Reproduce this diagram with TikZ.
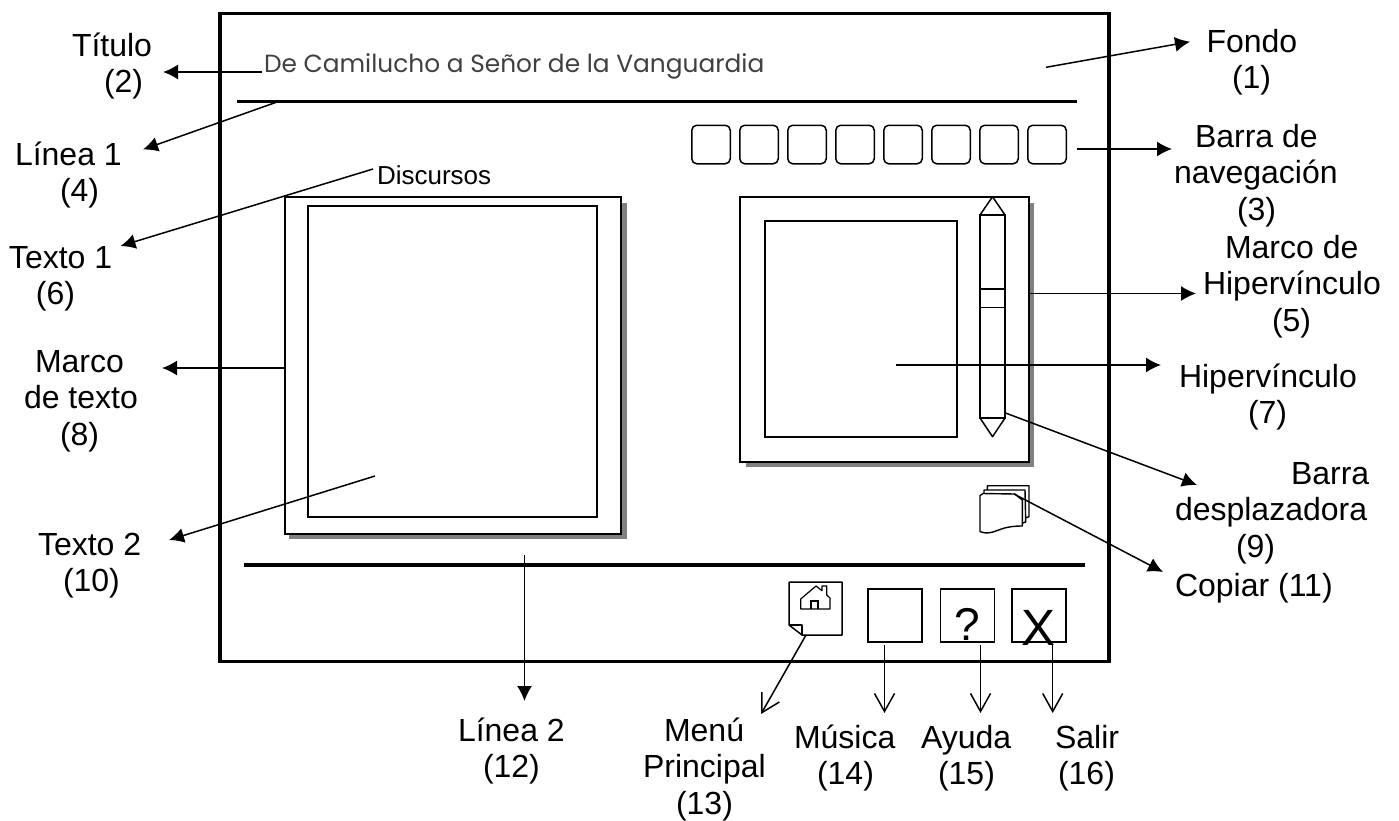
\documentclass[tikz,border=0pt]{standalone}
\usepackage{fontspec}
\setmainfont{Liberation Sans}
\newfontfamily\titlefont{Poppins}
\usetikzlibrary{arrows.meta}
\newcommand{\FL}{\rule{0pt}{30pt}}
\newcommand{\IN}[1]{\hspace*{#1pt}}
\tikzset{
 every node/.style={outer sep=0pt},
 lab/.style={font=\fontsize{32}{36.6}\selectfont,align=left,inner sep=0pt,anchor=north west},
 frame/.style={draw=black,line width=1.6pt,fill=white,inner sep=0pt,anchor=north west},
 conn/.style={line width=1.5pt,-{Latex[length=15pt,width=15pt]}},
 open/.style={line width=1.5pt,-{Straight Barb[length=18pt,width=20pt,line width=1.5pt]}},
 navbtn/.style={draw=black,line width=1.5pt,rounded corners=5pt,minimum width=38.5pt,minimum height=38.5pt,inner sep=0pt},
 btn/.style={draw=black,line width=1.5pt,minimum width=54pt,minimum height=53pt,inner sep=0pt},
 sheet/.style={line width=1.4pt,line join=round},
 shadow/.style={fill=black!50},
 rule/.style={line width=3.4pt},
}
\begin{document}
\begin{tikzpicture}[x=1pt,y=-1pt]
\useasboundingbox (0,0) rectangle (1399,820);
% window
\node[draw=black,line width=3.4pt,minimum width=889pt,minimum height=648pt,inner sep=0pt,anchor=north west] (win) at (220,13.3) {};
\coordinate (l1a) at (237,101.5); \coordinate (l1b) at (1077,101.5);
\draw[rule] (l1a) -- (l1b);
\coordinate (l2a) at (244,565); \coordinate (l2b) at (1085,565);
\draw[rule] (l2a) -- (l2b);
% title
\node[font=\titlefont\fontsize{24.85}{28}\selectfont,anchor=base west,inner sep=0pt,text=black!75] (tit) at (264,72) {De Camilucho a Señor de la Vanguardia};
\node[font=\fontsize{26}{30}\selectfont,anchor=base west,inner sep=0pt] (disc) at (377,184) {Discursos};
% nav
\foreach \i/\x in {1/711,2/759,3/807,4/855,5/903,6/951,7/999,8/1047}
  \node[navbtn] (nav\i) at (\x,144.5) {};
% left frame
\fill[shadow] (289,203) rectangle (627,539);
\node[frame,minimum width=336pt,minimum height=337pt] (mt) at (285,197) {};
\node[frame,minimum width=289pt,minimum height=311pt] (t2) at (308,206) {};
% right frame
\fill[shadow] (746,203) rectangle (1034,467);
\node[frame,minimum width=289pt,minimum height=265pt] (mh) at (740,197) {};
\node[frame,minimum width=192pt,minimum height=216pt] (hv) at (765,221) {};
% scroll bar
\draw[line width=1.5pt,line join=round] (980,215) -- (992.5,196.7) -- (1005,215) -- cycle;
\draw[line width=1.5pt,line join=round] (980,418) -- (992.5,436.7) -- (1005,418) -- cycle;
\node[draw=black,line width=1.5pt,minimum width=25pt,minimum height=203pt,inner sep=0pt,anchor=north west] (sb) at (980,215) {};
\node[draw=black,line width=1.5pt,minimum width=25pt,minimum height=18.3pt,inner sep=0pt,anchor=north west] (thumb) at (980,289) {};
% copy icon
\draw[sheet] (987.3,490) -- (987.3,485.7) -- (1029,485.7) -- (1029,516.7) -- (1026,517.7);
\draw[sheet] (984,493) -- (984,490) -- (1025,490) -- (1025.7,522) -- (1022.5,523);
\draw[sheet,fill=white] (980,495.5) -- (983,493.5) -- (1015,494) -- (1022.3,500) -- (1022.3,526) .. controls (1005,526) and (1000,530) .. (993,532) .. controls (988,533.5) and (983,533) .. (980,531.5) -- cycle;
% menu button
\draw[line width=1.5pt,line join=round] (789,582) -- (842,582) -- (842,635) -- (802,635) -- (789,625) -- cycle;
\draw[line width=1.3pt,line join=round] (789,625) -- (802,625) -- (802,635);
\draw[line width=1.2pt,line join=round] (800.7,609) -- (800.7,599) -- (816,586) -- (822,590.7) -- (822,586) -- (826.7,586) -- (826.7,595) -- (830,598) -- (830,609) -- cycle;
\draw[line width=1.2pt] (811,609) -- (811,601) -- (818,601) -- (818,609);
\coordinate (homeb) at (806,635);
\node[btn] (mu) at (895,615.5) {};
\node[btn] (ay) at (967.5,615.5) {};
\node[btn] (sa) at (1039,615.5) {};
\node[font=\fontsize{46}{48}\selectfont,inner sep=0pt,anchor=base] (qm) at (967,640) {?};
\node[font=\fontsize{51}{55}\selectfont,inner sep=0pt,anchor=base] (xx) at (1038,645) {X};
% labels
\node[lab] (Lfondo) at (1206.5,22) {\FL Fondo\\\IN{25.5}(1)};
\node[lab] (Ltitulo) at (72,26) {\FL Título\\\IN{32}(2)};
\node[lab] (Lbarra) at (1174,117) {\IN{21}\FL Barra de\\navegación\\\IN{63}(3)};
\node[lab] (Llinea1) at (15,135) {\FL Línea 1\\\IN{45}(4)};
\node[lab] (Lmarcoh) at (1203,228) {\IN{22}\FL Marco de\\Hipervínculo\\\IN{69}(5)};
\node[lab] (Ltexto1) at (9,238) {\FL Texto 1\\\IN{27}(6)};
\node[lab] (Lhiper) at (1179,357) {\FL Hipervínculo\\\IN{69}(7)};
\node[lab] (Lmarco) at (24,342) {\IN{11}\FL Marco\\de texto\\\IN{36}(8)};
\node[lab] (Lbd) at (1175,454) {\IN{116}\FL Barra\\desplazadora\\\IN{61}(9)};
\node[lab] (Ltexto2) at (38,525) {\FL Texto 2\\\IN{25}(10)};
\node[lab] (Lcopiar) at (1175,566) {\FL Copiar (11)};
\node[lab] (Llinea2) at (458,711) {\FL Línea 2\\\IN{25}(12)};
\node[lab] (Lmenu) at (643,711) {\IN{21}\FL Menú\\Principal\\\IN{33}(13)};
\node[lab] (Lmusica) at (794,718) {\FL Música\\\IN{23}(14)};
\node[lab] (Layuda) at (921,718) {\FL Ayuda\\\IN{17}(15)};
\node[lab] (Lsalir) at (1055,718) {\FL Salir\\\IN{3}(16)};
% connector ends
\coordinate (a1s) at (1046,67.3); \coordinate (a1e) at (1190,41.7);
\coordinate (a2s) at (262,72); \coordinate (a2e) at (163,72);
\coordinate (a3s) at (1077,149); \coordinate (a3e) at (1172,149);
\coordinate (a4s) at (277,102); \coordinate (a4e) at (143,149.5);
\coordinate (a5s) at (1029,293.5); \coordinate (a5e) at (1196,293.5);
\coordinate (a6s) at (373,169); \coordinate (a6e) at (120.5,246);
\coordinate (a7s) at (896,365); \coordinate (a7e) at (1161,365);
\coordinate (a8s) at (285,368); \coordinate (a8e) at (162,368);
\coordinate (a9s) at (1005.5,413); \coordinate (a9e) at (1197,485);
\coordinate (a10s) at (375,476); \coordinate (a10e) at (169,540);
\coordinate (a11s) at (1014,494); \coordinate (a11e) at (1163,572);
\coordinate (a12s) at (524.5,555); \coordinate (a12e) at (524.5,701);
\draw[conn] (a1s) -- (a1e);
\draw[conn] (a2s) -- (a2e);
\draw[conn] (a3s) -- (a3e);
\draw[conn] (a4s) -- (a4e);
\draw[conn] (a5s) -- (a5e);
\draw[conn] (a6s) -- (a6e);
\draw[conn] (a7s) -- (a7e);
\draw[conn] (a8s) -- (a8e);
\draw[conn] (a9s) -- (a9e);
\draw[conn] (a10s) -- (a10e);
\draw[conn] (a11s) -- (a11e);
\draw[conn] (a12s) -- (a12e);
\coordinate (o1e) at (761,714);
\coordinate (o2s) at (884.5,645); \coordinate (o2e) at (884.5,713);
\coordinate (o3s) at (980.5,645); \coordinate (o3e) at (980.5,713);
\coordinate (o4s) at (1052.7,645); \coordinate (o4e) at (1052.7,713);
\draw[open] (homeb) -- (o1e);
\draw[open] (o2s) -- (o2e);
\draw[open] (o3s) -- (o3e);
\draw[open] (o4s) -- (o4e);
\end{tikzpicture}
\end{document}
